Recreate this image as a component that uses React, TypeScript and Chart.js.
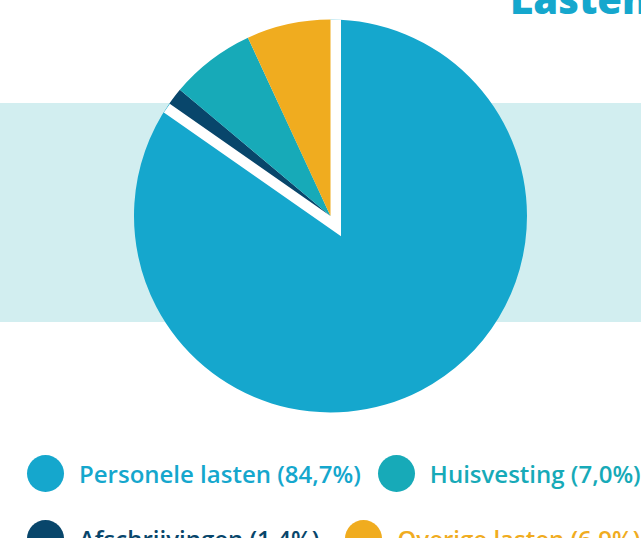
import React, { useEffect, useRef } from "react";
import { Chart, registerables } from "chart.js";

Chart.register(...registerables);

// ---- data ----
const categories = ["Personele lasten", "Afschrijvingen", "Huisvesting", "Overige lasten"];
const values = [84.7, 1.4, 7.0, 6.9];
const valueLabels = ["84,7%", "1,4%", "7,0%", "6,9%"];
const sliceColors = ["#15a7cd", "#08466b", "#17aab8", "#f0ac1f"];
const legendRows = [
  [0, 2],
  [1, 3],
];
const titleText = "Lasten";

const FONT = "'Open Sans', 'Noto Sans', sans-serif";
const PIE_RADIUS = 196.5;
const GAP_STROKE = 21; // half of it stays visible on the large slice's side
const ROW_ITEM_GAPS = [17, 26];

export default function App() {
  const canvasRef = useRef<HTMLCanvasElement | null>(null);

  useEffect(() => {
    if (!canvasRef.current) return;
    const total = values.reduce((a, b) => a + b, 0);

    const chart = new Chart(canvasRef.current, {
      type: "pie",
      data: {
        labels: categories,
        datasets: [
          {
            data: values,
            backgroundColor: sliceColors,
            borderColor: "#ffffff",
            borderWidth: values.map((_, i) => (i === 0 ? GAP_STROKE : 0)),
            borderJoinStyle: "miter",
            // stroke only the two straight edges of the large slice (skip its outer arc)
            borderDash: (ctx: any) => {
              if (ctx.dataIndex !== 0) return [];
              const arcLen = PIE_RADIUS * 2 * Math.PI * (values[0] / total);
              return [PIE_RADIUS * 2 + 40, arcLen];
            },
            borderDashOffset: (ctx: any) => (ctx.dataIndex === 0 ? PIE_RADIUS * 2 + 40 : 0),
          } as any,
        ],
      },
      options: {
        animation: false,
        responsive: true,
        maintainAspectRatio: false,
        radius: PIE_RADIUS,
        layout: { padding: { left: 20, right: 0, top: 0, bottom: 8 } },
        plugins: {
          legend: { display: false },
          tooltip: { enabled: false },
        },
      } as any,
    });
    return () => chart.destroy();
  }, []);

  return (
    <div
      style={{
        position: "fixed",
        left: 0,
        top: 0,
        width: 641,
        height: 538,
        overflow: "hidden",
        background: "#ffffff",
        fontFamily: FONT,
      }}
    >
      <div
        style={{
          position: "absolute",
          left: 0,
          top: 103,
          width: 641,
          height: 219,
          background: "#d2eef0",
        }}
      />
      <div
        style={{
          position: "absolute",
          left: 510,
          top: -21,
          fontSize: 40,
          lineHeight: "40px",
          fontWeight: 800,
          color: "#15a7cd",
          whiteSpace: "nowrap",
        }}
      >
        {titleText}
      </div>
      <div style={{ position: "absolute", left: 0, top: 0, width: 641, height: 440 }}>
        <canvas ref={canvasRef} />
      </div>
      {legendRows.map((row, ri) => (
        <div
          key={ri}
          style={{
            position: "absolute",
            left: 27,
            top: 455 + ri * 64.5,
            height: 37,
            display: "flex",
            alignItems: "center",
            whiteSpace: "nowrap",
          }}
        >
          {row.map((i) => (
            <div
              key={i}
              style={{ display: "flex", alignItems: "center", marginRight: ROW_ITEM_GAPS[ri] }}
            >
              <span
                style={{
                  display: "inline-block",
                  width: 37,
                  height: 37,
                  borderRadius: "50%",
                  background: sliceColors[i],
                  marginRight: 15,
                }}
              />
              <span
                style={{
                  fontSize: 24,
                  fontWeight: 600,
                  color: sliceColors[i],
                  lineHeight: "37px",
                }}
              >
                {categories[i] + " (" + valueLabels[i] + ")"}
              </span>
            </div>
          ))}
        </div>
      ))}
    </div>
  );
}
